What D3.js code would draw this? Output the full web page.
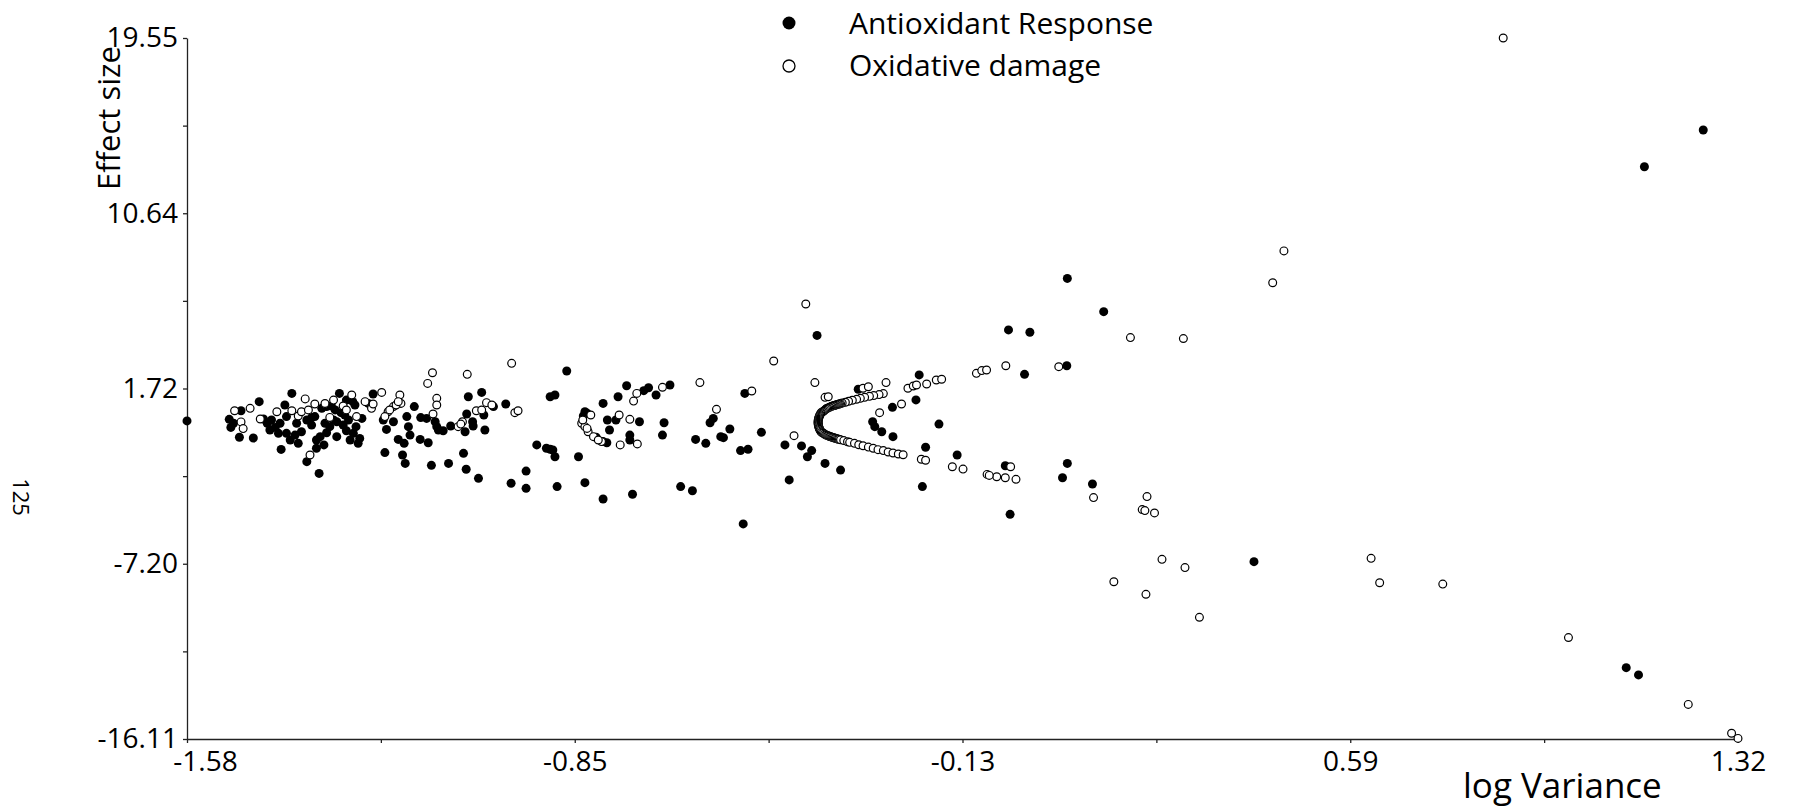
<!DOCTYPE html>
<html>
<head>
<meta charset="utf-8">
<script src="https://cdn.jsdelivr.net/npm/d3@7"></script>
<style>
  html, body { margin: 0; padding: 0; background: #fff; }
  svg { display: block; }
  text { font-family: "Open Sans", "Noto Sans", sans-serif; fill: #000; }
</style>
</head>
<body>
<svg id="chart" width="1794" height="809"></svg>
<script>
// ---- Data (log Variance, Effect size) ----
const antioxidant = [
  [-1.58,0.07],
  [-1.501,0.15],[-1.498,-0.26],[-1.482,-0.76],[-1.479,0.59],[-1.456,-0.80],[-1.445,1.05],[-1.437,0.17],[-1.430,-0.05],[-1.422,0.12],[-1.415,-0.26],[-1.409,-0.56],[-1.404,-1.38],[-1.397,0.88],[-1.394,0.29],[-1.387,-0.90],[-1.384,1.47],[-1.378,-0.65],[-1.375,-0.05],[-1.372,-1.07],[-1.366,-0.48],[-1.356,0.12],[-1.356,-2.00],[-1.347,0.24],[-1.341,0.29],[-1.338,-0.90],[-1.338,-1.32],[-1.333,-2.60],[-1.331,-0.73],[-1.324,-1.15],[-1.319,-0.53],[-1.328,0.71],[-1.319,0.80],[-1.310,0.83],[-1.303,0.63],[-1.300,0.03],[-1.295,1.47],[-1.292,0.49],[-1.288,-0.14],[-1.285,0.37],[-1.282,-0.43],[-1.275,-0.90],[-1.270,1.05],[-1.266,0.88],[-1.264,-0.22],[-1.260,-1.07],[-1.253,0.20],[-1.257,-0.82],[-1.232,1.44],[-1.241,0.96],[-1.213,0.12],[-1.210,-1.54],[-1.207,-0.36],[-1.194,0.03],[-1.185,-0.87],[-1.177,-1.66],[-1.174,-1.07],[-1.172,-2.09],[-1.169,0.29],[-1.166,-0.22],[-1.163,-0.65],[-1.155,0.80],[-1.143,0.24],[-1.144,-0.87],[-1.132,0.20],[-1.129,-1.04],[-1.123,-2.19],[-1.116,0.03],[-1.113,-0.22],[-1.110,-0.39],[-1.101,-0.43],[-1.091,-2.09],[-1.087,-0.19],[-1.063,-1.58],[-1.060,-0.48],[-1.058,-2.39],[-1.057,0.42],[-1.054,1.30],[-1.046,0.03],[-1.045,-0.19],[-1.035,-2.85],[-1.029,1.52],[-1.025,0.37],[-1.023,-0.39],[-1.007,0.80],[-0.984,0.93],[-0.974,-3.10],
  [-1.306,0.12],[-1.313,-0.22],[-1.406,-0.05],[-1.425,-0.39],[-1.394,-0.56],[-1.347,-0.14],[-1.278,0.12],[-1.269,-0.56],[-1.300,-0.73],[-1.322,-0.05],[-1.493,-0.05],[-1.282,1.13],
  [-0.946,-2.48],[-0.946,-3.36],[-0.926,-1.15],[-0.908,-1.32],[-0.901,-1.37],[-0.896,-1.41],[-0.892,-1.75],[-0.901,1.30],[-0.892,1.39],[-0.888,-3.27],[-0.870,2.61],[-0.848,-1.75],[-0.836,-3.07],[-0.836,0.54],[-0.839,0.32],[-0.832,0.46],[-0.815,-0.76],[-0.802,0.96],[-0.802,-0.98],[-0.795,-1.04],[-0.802,-3.90],[-0.794,0.12],[-0.790,-0.39],[-0.778,0.12],[-0.774,1.30],[-0.758,1.86],[-0.752,-0.65],[-0.752,-0.90],[-0.747,-3.66],[-0.734,0.03],[-0.726,1.61],[-0.717,1.76],[-0.703,1.39],[-0.691,-0.65],[-0.688,-0.02],[-0.677,1.90],[-0.657,-3.27],[-0.635,-3.48],[-0.629,-0.87],[-0.610,-1.07],[-0.602,-0.02],[-0.596,0.20],[-0.582,-0.73],[-0.577,-0.78],[-0.565,-0.34],[-0.545,-1.44],[-0.537,1.47],[-0.531,-1.37],[-0.540,-5.17],[-0.506,-0.51],[-0.462,-1.15],[-0.454,-2.93],[-0.431,-1.20],[-0.412,-1.44],[-0.420,-1.75],[-0.402,4.42],[-0.387,-2.09],[-0.358,-2.43],[-0.325,1.68],
  [-0.211,2.41],[-0.217,1.14],[-0.261,0.76],[-0.298,0.03],[-0.294,-0.22],[-0.281,-0.48],[-0.260,-0.73],[-0.174,-0.09],[-0.199,-1.27],[-0.205,-3.27],[-0.140,-1.66],
  [0.066,7.32],[0.134,5.63],[-0.044,4.70],[-0.004,4.58],[-0.014,2.44],[0.065,2.88],[-0.050,-2.21],[0.066,-2.09],[0.057,-2.82],[0.113,-3.14],[-0.041,-4.68],
  [0.415,-7.09],[1.111,-12.48],[1.134,-12.85],[1.255,14.87],[1.145,13.00]
];

const oxidative = [
  [-1.491,0.59],[-1.479,0.02],[-1.475,-0.32],[-1.462,0.71],[-1.443,0.17],[-1.412,0.54],[-1.384,0.59],[-1.372,0.32],[-1.366,0.54],[-1.359,1.19],[-1.353,0.63],[-1.341,0.93],[-1.350,-1.66],[-1.322,0.96],[-1.306,1.13],[-1.313,0.25],[-1.288,0.83],[-1.282,0.63],[-1.272,1.39],[-1.263,0.29],[-1.247,1.05],[-1.235,0.71],[-1.232,0.93],[-1.216,1.52],[-1.204,0.54],[-1.194,0.80],[-1.182,1.39],[-1.180,0.96],[-1.130,1.98],[-1.121,2.52],[-1.120,0.42],[-1.113,1.22],[-1.113,0.88],[-1.073,-0.22],[-1.065,0.03],[-1.056,2.44],[-1.039,0.59],[-1.029,0.63],[-1.020,1.00],[-1.010,0.88],[-0.973,3.00],[-0.967,0.49],[-0.961,0.59],
  [-1.210,0.29],[-1.201,0.63],[-1.189,0.88],[-1.185,1.05],[-1.068,-0.09],
  [-0.770,-1.15],[-0.738,-1.10],[-0.752,0.15],[-0.772,0.37],[-0.745,1.08],[-0.739,1.47],[-0.691,1.78],[-0.621,2.02],[-0.590,0.66],[-0.524,1.59],[-0.483,3.12],[-0.423,6.02],[-0.406,2.02],[-0.387,1.27],[-0.381,1.30],[-0.445,-0.68],
  [-0.842,-0.05],[-0.836,-0.22],[-0.830,-0.48],[-0.825,0.37],[-0.805,-0.98],[-0.840,0.12],[-0.832,-0.31],[-0.820,-0.73],[-0.811,-0.90],
  // C-shaped run: upper arm (outer part)
  [-0.278,1.46],[-0.286,1.41],[-0.296,1.36],[-0.304,1.32],[-0.313,1.27],[-0.321,1.22],[-0.328,1.17],[-0.336,1.12],[-0.343,1.07],[-0.349,1.02],[-0.355,0.98],
  // C-shaped run: dense part around the vertex
  [-0.358,0.95],[-0.360,0.94],[-0.362,0.92],[-0.364,0.91],[-0.366,0.89],[-0.368,0.87],[-0.370,0.85],[-0.372,0.84],[-0.374,0.82],[-0.376,0.80],[-0.378,0.77],[-0.380,0.75],[-0.382,0.72],[-0.384,0.70],[-0.386,0.66],[-0.388,0.61],[-0.390,0.56],[-0.392,0.53],
  [-0.394,0.50],[-0.3951,0.45],[-0.3962,0.40],[-0.3971,0.35],[-0.3978,0.30],[-0.3985,0.25],[-0.399,0.20],[-0.3995,0.15],[-0.3998,0.10],[-0.400,0.05],[-0.400,0.00],[-0.400,-0.05],[-0.3998,-0.10],[-0.3995,-0.15],[-0.399,-0.20],[-0.3985,-0.25],[-0.3978,-0.30],[-0.3971,-0.35],[-0.3962,-0.40],[-0.3951,-0.45],[-0.394,-0.50],
  [-0.392,-0.53],[-0.390,-0.56],[-0.388,-0.60],[-0.386,-0.63],[-0.384,-0.66],[-0.382,-0.68],[-0.380,-0.70],[-0.378,-0.72],[-0.376,-0.74],[-0.374,-0.76],[-0.372,-0.78],[-0.370,-0.79],[-0.368,-0.81],[-0.366,-0.83],[-0.364,-0.84],[-0.362,-0.86],[-0.360,-0.87],[-0.358,-0.89],
  // C-shaped run: lower arm (outer part)
  [-0.352,-0.93],[-0.345,-0.99],[-0.341,-1.02],[-0.332,-1.07],[-0.324,-1.14],[-0.316,-1.19],[-0.306,-1.26],[-0.297,-1.32],[-0.288,-1.39],[-0.278,-1.44],[-0.269,-1.51],[-0.260,-1.56],[-0.250,-1.61],[-0.241,-1.65],
  [-0.316,1.73],[-0.306,1.81],[-0.273,2.02],[-0.232,1.73],[-0.222,1.85],[-0.216,1.90],[-0.197,1.95],[-0.179,2.15],[-0.169,2.19],[-0.104,2.49],[-0.094,2.63],[-0.085,2.66],[-0.244,0.93],[-0.285,0.49],[-0.207,-1.88],[-0.199,-1.93],[-0.149,-2.26],[-0.129,-2.38],[-0.084,-2.65],[-0.066,-2.77],[-0.080,-2.70],
  [0.471,8.72],[0.450,7.10],[0.184,4.31],[0.283,4.26],[-0.049,2.88],[0.050,2.83],[-0.050,-2.82],[-0.030,-2.90],[-0.040,-2.26],[0.115,-3.83],[0.215,-3.78],[0.206,-4.44],[0.211,-4.49],[0.229,-4.61],
  [0.243,-6.97],[0.286,-7.39],[0.153,-8.11],[0.213,-8.75],[0.313,-9.92],[0.634,-6.92],[0.650,-8.16],[0.768,-8.23],[1.003,-10.95],[1.227,-14.35],[1.308,-15.82],[1.32,-16.08],
  [0.881,19.55]
];

const xDomain = [-1.58, 1.32];
const yDomain = [-16.11, 19.55];
const xTicks = [-1.58, -0.855, -0.13, 0.595, 1.32];
const xTickLabels = ["-1.58", "-0.85", "-0.13", "0.59", "1.32"];
const yTicks = [19.55, 10.635, 1.72, -7.195, -16.11];
const yTickLabels = ["19.55", "10.64", "1.72", "-7.20", "-16.11"];
const seriesNames = ["Antioxidant Response", "Oxidative damage"];

// ---- Layout ----
const svg = d3.select("#chart");
const x = d3.scaleLinear().domain(xDomain).range([187, 1738]);
const y = d3.scaleLinear().domain(yDomain).range([739, 38]);

const mid = a => a.slice(1).map((v, i) => (v + a[i]) / 2);

const axisColor = "#222";

// minor ticks
svg.append("g").attr("transform", "translate(0,739)")
  .call(d3.axisBottom(x).tickValues(mid(xTicks)).tickFormat("").tickSize(4).tickSizeOuter(0))
  .call(g => g.select(".domain").remove());
svg.append("g").attr("transform", "translate(187,0)")
  .call(d3.axisLeft(y).tickValues(mid(yTicks)).tickFormat("").tickSize(4).tickSizeOuter(0))
  .call(g => g.select(".domain").remove());

// major axes
const gx = svg.append("g").attr("transform", "translate(0,739)")
  .call(d3.axisBottom(x).tickValues(xTicks).tickFormat((d, i) => xTickLabels[i]).tickSize(4).tickSizeOuter(0).tickPadding(8));
const gy = svg.append("g").attr("transform", "translate(187,0)")
  .call(d3.axisLeft(y).tickValues(yTicks).tickFormat((d, i) => yTickLabels[i]).tickSize(4).tickSizeOuter(0).tickPadding(5));

svg.selectAll(".tick line, .domain").attr("stroke", axisColor).attr("stroke-width", 1.3);
[gx, gy].forEach(g => g.selectAll("text")
  .attr("font-family", '"Open Sans", sans-serif').attr("font-size", 28).attr("fill", "#000"));
gx.selectAll(".tick text").filter((d, i) => i === 0).attr("dx", 18);

// axis titles
svg.append("text").attr("transform", "translate(120,118) rotate(-90)")
  .attr("text-anchor", "middle").attr("font-size", 31).text("Effect size");
svg.append("text").attr("x", 1463).attr("y", 798)
  .attr("font-size", 35).text("log Variance");
svg.append("text").attr("transform", "translate(13,497) rotate(90)")
  .attr("text-anchor", "middle").attr("font-size", 22).text("125");

// points
const R = 4.5;
svg.append("g").selectAll("circle").data(antioxidant).join("circle")
  .attr("cx", d => x(d[0])).attr("cy", d => y(d[1])).attr("r", R)
  .attr("fill", "#000");
svg.append("g").selectAll("circle").data(oxidative).join("circle")
  .attr("cx", d => x(d[0])).attr("cy", d => y(d[1])).attr("r", R - 0.6)
  .attr("fill", "#fff").attr("stroke", "#000").attr("stroke-width", 1.2);

// legend
const legend = svg.append("g");
legend.append("circle").attr("cx", 789).attr("cy", 23).attr("r", 6.5).attr("fill", "#000");
legend.append("circle").attr("cx", 789).attr("cy", 66).attr("r", 6)
  .attr("fill", "#fff").attr("stroke", "#000").attr("stroke-width", 1.3);
legend.append("text").attr("x", 849).attr("y", 34).attr("font-size", 30).text(seriesNames[0]);
legend.append("text").attr("x", 849).attr("y", 76).attr("font-size", 30).text(seriesNames[1]);
</script>
</body>
</html>
